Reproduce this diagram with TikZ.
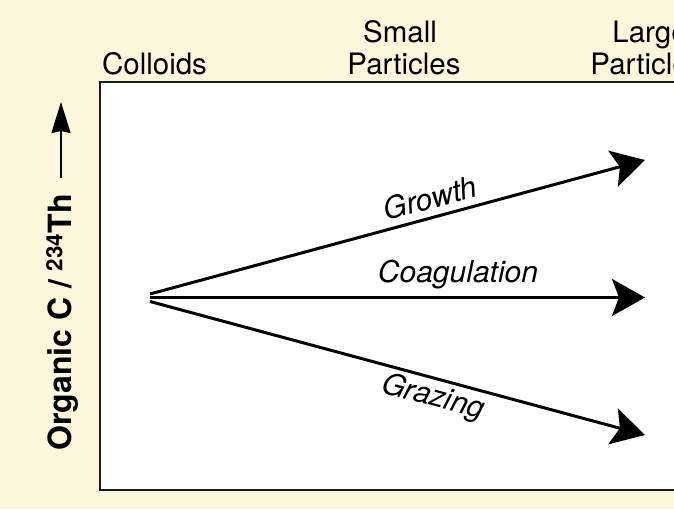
\documentclass[tikz,border=0pt]{standalone}
\usepackage{fontspec}
\setmainfont{TeX Gyre Heros}
\usetikzlibrary{arrows.meta}
\definecolor{bgcream}{RGB}{252,246,221}
\tikzset{
  flow/.style={line width=3pt, -{Stealth[length=33pt,width=37pt,inset=7pt]}},
  axisarrow/.style={line width=2pt, -{Stealth[length=31pt,width=19pt,inset=2pt]}},
  header/.style={inner sep=0pt, anchor=base, font=\fontsize{29.5pt}{31pt}\selectfont},
  flowlabel/.style={inner sep=0pt, font=\fontsize{30pt}{32pt}\selectfont\itshape},
}
\begin{document}
\begin{tikzpicture}[x=1pt,y=1pt]
\useasboundingbox (0,0) rectangle (674,509);
\clip (0,0) rectangle (674,509);
\fill[bgcream] (0,0) rectangle (674,509);
% plot frame
\draw[line width=2pt, draw=black!90, fill=white] (100,427) rectangle (720,19);
% column headers
\node[header] (colloids) at (154.5,434.5) {Colloids};
\node[header] (small1) at (400,466) {Small};
\node[header] (small2) at (404,434.5) {Particles};
\node[header] (large1) at (650,466) {Large};
\node[header] (large2) at (647,434.5) {Particles};
% y-axis label and arrow
\node[inner sep=0pt, rotate=90, anchor=base west, font=\fontsize{32pt}{34pt}\selectfont\bfseries] (ylab) at (71.5,58) {Organic C / \textsuperscript{234}Th};
\coordinate (ya) at (61,331);
\coordinate (yb) at (61,407);
\draw[axisarrow] (ya) -- (yb);
% flows
\coordinate (o1) at (150,215);
\coordinate (o2) at (150,211.5);
\coordinate (o3) at (150,207.5);
\coordinate (t1) at (645,349);
\coordinate (t2) at (645,211.5);
\coordinate (t3) at (645,74);
\draw[flow] (o1) -- (t1);
\draw[flow] (o2) -- (t2);
\draw[flow] (o3) -- (t3);
\node[flowlabel, rotate=15.1] (growth) at (430,311) {Growth};
\node[flowlabel, anchor=base] (coag) at (458,226) {Coagulation};
\node[flowlabel, rotate=-15] (grazing) at (433,111) {Grazing};
\end{tikzpicture}
\end{document}
